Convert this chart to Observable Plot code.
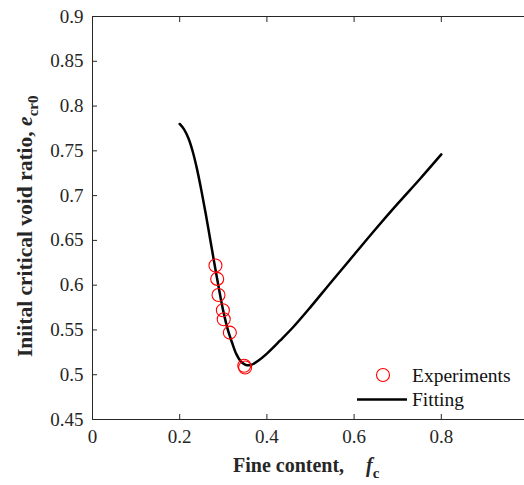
<!DOCTYPE html>
<html><head><meta charset="utf-8">
<script src="https://cdn.jsdelivr.net/npm/d3@7"></script>
<script src="https://cdn.jsdelivr.net/npm/@observablehq/plot@0.6"></script>
<style>
body{margin:0;background:#fff;overflow:hidden}
#chart svg{overflow:hidden}
#chart svg, #chart svg text, #chart svg tspan{font-family:"Liberation Serif","Times New Roman",serif !important}
</style>
</head><body><div id="chart"></div>
<script>
// Fitting curve (fine content f_c, critical void ratio e_cr0)
const fitX = [0.200, 0.210, 0.220, 0.230, 0.240, 0.250, 0.260, 0.270, 0.280, 0.290, 0.300, 0.310, 0.320, 0.330, 0.340, 0.350, 0.360, 0.370, 0.380, 0.400, 0.430, 0.460, 0.500, 0.550, 0.600, 0.650, 0.700, 0.750, 0.800];
const fitY = [0.780, 0.774, 0.764, 0.749, 0.729, 0.705, 0.679, 0.651, 0.623, 0.596, 0.571, 0.551, 0.536, 0.523, 0.515, 0.5113, 0.5105, 0.5123, 0.5155, 0.5236, 0.538, 0.553, 0.5755, 0.605, 0.634, 0.663, 0.691, 0.718, 0.746];
// Experiments
const expX = [0.282, 0.286, 0.289, 0.299, 0.301, 0.315, 0.348, 0.350];
const expY = [0.622, 0.607, 0.589, 0.572, 0.562, 0.547, 0.510, 0.508];
// Ticks
const xTickMarks = [0, 0.2, 0.4, 0.6, 0.8, 1];
const xTickLabels = [0, 0.2, 0.4, 0.6, 0.8];
const yTicks = [0.45, 0.5, 0.55, 0.6, 0.65, 0.7, 0.75, 0.8, 0.85, 0.9];
const legendLabels = ["Experiments", "Fitting"];

const fit = fitX.map((x, i) => ({x, y: fitY[i]}));
const exp = expX.map((x, i) => ({x, y: expY[i]}));
const axisColor = "#262626";
const fmt = d => String(d);
const serif = "Liberation Serif";

const W = 524, H = 485;
const plot = Plot.plot({
  width: W, height: H,
  marginLeft: 92, marginRight: -4, marginTop: 16, marginBottom: 66,
  style: {fontFamily: "'Liberation Serif', 'Times New Roman', serif", fontSize: "19px", color: axisColor, background: "white"},
  x: {domain: [0, 1]},
  y: {domain: [0.45, 0.9]},
  marks: [
    Plot.frame({stroke: axisColor, strokeWidth: 1}),
    Plot.axisX({anchor: "bottom", ticks: xTickMarks, tickSize: -5, tickFormat: () => "", label: null}),
    Plot.axisX({anchor: "top", ticks: xTickMarks, tickSize: -5, tickFormat: () => "", label: null}),
    Plot.axisY({anchor: "left", ticks: yTicks, tickSize: -5, tickFormat: () => "", label: null}),
    Plot.axisY({anchor: "right", ticks: yTicks, tickSize: -5, tickFormat: () => "", label: null}),
    Plot.axisX({anchor: "bottom", ticks: xTickLabels, tickSize: 0, tickPadding: 10, tickFormat: fmt, label: null, fontSize: 19, fontFamily: serif}),
    Plot.axisY({anchor: "left", ticks: yTicks, tickSize: 0, tickPadding: 9, tickFormat: fmt, label: null, fontSize: 19, fontFamily: serif}),
    Plot.line(fit, {x: "x", y: "y", stroke: "black", strokeWidth: 2.5, curve: "catmull-rom"}),
    Plot.dot(exp, {x: "x", y: "y", r: 6.5, stroke: "red", strokeWidth: 1.1, fill: "none"})
  ]
});
document.getElementById("chart").appendChild(plot);

const svg = d3.select(plot);

// X axis label
const xl = svg.append("text")
  .attr("x", 233).attr("y", 472).attr("text-anchor", "start")
  .attr("font-family", serif).attr("font-size", 20).attr("font-weight", "bold").attr("fill", axisColor);
xl.append("tspan").text("Fine content,");
xl.append("tspan").attr("dx", 22).attr("font-style", "italic").text("f");
xl.append("tspan").attr("dy", 6).attr("font-size", 15).text("c");

// Y axis label
const yl = svg.append("text")
  .attr("transform", "translate(32,357) rotate(-90)").attr("text-anchor", "start")
  .attr("font-family", serif).attr("font-size", 21.5).attr("font-weight", "bold").attr("fill", axisColor);
yl.append("tspan").text("Iniital critical void ratio, ");
yl.append("tspan").attr("font-style", "italic").text("e");
yl.append("tspan").attr("dy", 6).attr("font-size", 15).text("cr0");

// Legend
const lg = svg.append("g").attr("font-family", serif).attr("font-size", 19.5).attr("fill", "#111").attr("text-anchor", "start");
lg.append("circle").attr("cx", 383).attr("cy", 375).attr("r", 6.5).attr("fill", "none").attr("stroke", "red").attr("stroke-width", 1.1);
lg.append("text").attr("x", 412).attr("y", 382).text(legendLabels[0]);
lg.append("line").attr("x1", 357).attr("x2", 407).attr("y1", 399.5).attr("y2", 399.5).attr("stroke", "black").attr("stroke-width", 2.5);
lg.append("text").attr("x", 412).attr("y", 405.5).text(legendLabels[1]);
</script>
</body></html>
